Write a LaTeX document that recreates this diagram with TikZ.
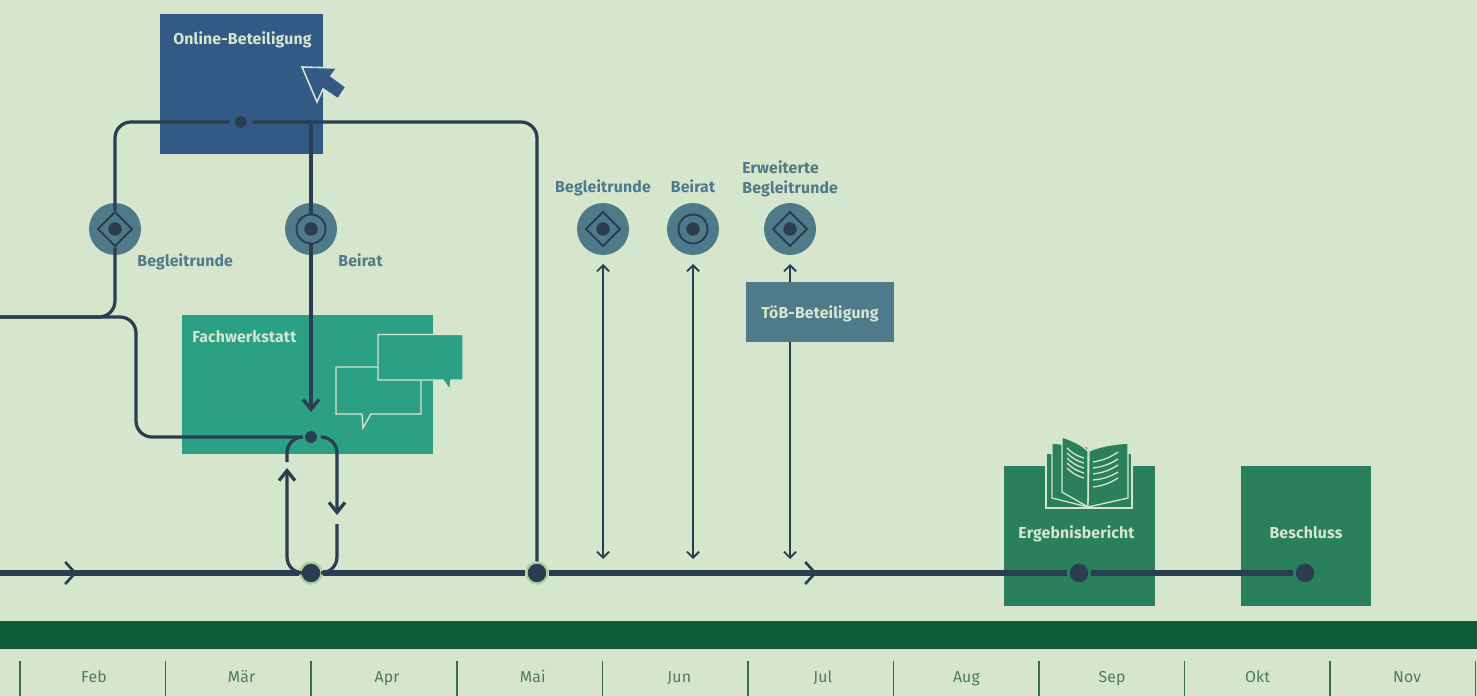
\documentclass[tikz,border=0pt]{standalone}
\usepackage{fontspec}
\setmainfont[LetterSpace=1]{Fira Sans}
\usepackage{tikz}
\usetikzlibrary{positioning,shapes.geometric,arrows.meta}

\definecolor{paper}{HTML}{D5E6CD}
\definecolor{ink}{HTML}{2B3D50}
\definecolor{badge}{HTML}{4F7A8A}
\definecolor{onlinecol}{HTML}{325A85}
\definecolor{werkcol}{HTML}{2CA084}
\definecolor{berichtcol}{HTML}{2A7F5C}
\definecolor{bandcol}{HTML}{0E5C39}
\definecolor{monthcol}{HTML}{4F7A62}
\definecolor{tickcol}{HTML}{3A6B4F}
\definecolor{ringcol}{HTML}{A9CFA0}

\begin{document}
\begin{tikzpicture}[x=0.02cm,y=-0.02cm,node distance=2.912cm,
box node/.style={rectangle,inner sep=0pt,outer sep=0pt},
title node/.style={font=\fontsize{9}{11}\selectfont\bfseries,text=paper,inner sep=0pt,text height=6.3pt,text depth=1.9pt},
side node/.style={font=\fontsize{9}{11}\selectfont\bfseries,text=badge,inner sep=0pt,text height=6.3pt,text depth=1.9pt},
month node/.style={font=\fontsize{9}{10}\selectfont,text=monthcol,inner sep=0pt,text height=6.3pt,text depth=1.9pt},
round node/.style={circle,fill=badge,minimum size=1.04cm,inner sep=0pt},
ring node/.style={circle,draw=ink,line width=1.1pt,minimum size=0.58cm,inner sep=0pt},
diam node/.style={diamond,draw=ink,line width=1.1pt,minimum width=0.7cm,minimum height=0.7cm,inner sep=0pt},
mid node/.style={circle,fill=ink,minimum size=0.27cm,inner sep=0pt},
stop node/.style={circle,fill=ink,minimum size=0.24cm,inner sep=0pt,outer sep=0.11cm},
base node/.style={circle,fill=ink,draw=ringcol,line width=1.3pt,minimum size=0.42cm,inner sep=0pt},
end node/.style={circle,fill=ink,minimum size=0.37cm,inner sep=0pt,outer sep=0.06cm},
main line/.style={draw=ink,line width=3.2pt},
loop line/.style={draw=ink,line width=1.85pt,rounded corners=0.32cm},
thin line/.style={draw=ink,line width=1.1pt},
main arrow/.style={draw=ink,line width=1.5pt,-{Straight Barb[length=0.2cm,width=0.44cm]}},
loop arrow/.style={-{Straight Barb[length=0.2cm,width=0.32cm]}},
thin arrow/.style={{Straight Barb[length=0.12cm,width=0.24cm]}-{Straight Barb[length=0.12cm,width=0.24cm]}},
up arrow/.style={-{Straight Barb[length=0.12cm,width=0.24cm]}},
sketch line/.style={draw=paper,line width=0.75pt,line join=miter}]

\useasboundingbox (0,0) rectangle (1477,696);
\fill[paper] (0,0) rectangle (1477,696);

% boxes
\node[box node,fill=onlinecol,minimum width=3.26cm,minimum height=2.8cm] (online) at (241.5,84) {};
\node[box node,fill=werkcol,minimum width=5.02cm,minimum height=2.78cm] (werk) at (307.5,384.5) {};
\node[box node,fill=badge,minimum width=2.96cm,minimum height=1.2cm] (toeb) at (820,312) {};
\node[box node,fill=berichtcol,minimum width=3.02cm,minimum height=2.8cm] (bericht) at (1079.5,536) {};
\node[box node,fill=berichtcol,minimum width=2.6cm,minimum height=2.8cm] (beschluss) at (1306,536) {};
\node[box node,fill=bandcol,minimum width=29.54cm,minimum height=0.56cm] (band) at (738.5,635) {};

% cursor
\fill[onlinecol,draw=paper,line width=0.9pt,line join=miter] (302,67) -- (337,68) -- (331,76) -- (346,87) -- (338,99) -- (323,89) -- (317,102) -- cycle;

% speech bubbles
\draw[sketch line] (336,367) -- (421,367) -- (421,414) -- (371,414) -- (363,428) -- (362,414) -- (336,414) -- cycle;
\filldraw[sketch line,fill=werkcol] (378,334.5) -- (463,334.5) -- (463,380) -- (451,380) -- (450,390) -- (443,380) -- (378,380) -- cycle;

% book
\filldraw[sketch line,fill=berichtcol] (1046,453) -- (1132,453) -- (1132,508) -- (1046,508) -- cycle;
\filldraw[sketch line,fill=berichtcol] (1052,443) -- (1088,447) -- (1088,507) -- (1052,498) -- cycle;
\filldraw[sketch line,fill=berichtcol] (1062,437) .. controls (1072,440) and (1082,445) .. (1088,451) -- (1088,507) -- (1062,492) -- cycle;
\filldraw[sketch line,fill=berichtcol] (1089,451) .. controls (1100,446) and (1115,444) .. (1128,443) -- (1128,498) -- (1088,507) -- cycle;
\draw[sketch line] (1067,448) to[bend right=14] (1084,458);
\draw[sketch line] (1067,453) to[bend right=14] (1084,463);
\draw[sketch line] (1067,458) to[bend right=14] (1084,468);
\draw[sketch line] (1067,463) to[bend right=14] (1084,473);
\draw[sketch line] (1067,468) to[bend right=14] (1084,478);
\draw[sketch line] (1093,462) to[bend right=12] (1118,452);
\draw[sketch line] (1093,468) to[bend right=12] (1118,459);
\draw[sketch line] (1093,474) to[bend right=12] (1118,465);
\draw[sketch line] (1093,480) to[bend right=12] (1118,472);
\draw[sketch line] (1093,487) to[bend right=12] (1118,478);

% round marks
\node[round node] (begl a) at (115,229) {};
\node[round node] (beirat a) at (311,229) {};
\node[round node] (begl b) at (603,229) {};
\node[round node] (beirat b) at (693,229) {};
\node[round node] (erw) at (790,229) {};
\node[diam node] (begl a mark) at (begl a) {};
\node[ring node] (beirat a mark) at (beirat a) {};
\node[diam node] (begl b mark) at (begl b) {};
\node[ring node] (beirat b mark) at (beirat b) {};
\node[diam node] (erw mark) at (erw) {};
\node[mid node] at (begl a) {};
\node[mid node] at (beirat a) {};
\node[mid node] at (begl b) {};
\node[mid node] at (beirat b) {};
\node[mid node] at (erw) {};

% stops
\node[stop node] (online stop) at (241,122) {};
\node[stop node] (werk stop) at (311,437) {};
\node[base node] (base a) at (311,573) {};
\node[base node] (base b) at (537,573) {};
\node[end node] (bericht stop) at (1079,573) {};
\node[end node] (beschluss stop) at (1305,573) {};

% free ends
\coordinate (start) at (0,317);
\coordinate (line start) at (0,573);
\coordinate (knick) at (136,380);
\coordinate (junction) at (311,122);
\coordinate (werk in) at (311,412);
\coordinate (up end) at (287,468);
\coordinate (up start) at (287,462);
\coordinate (down end) at (337,515);
\coordinate (down start) at (337,524);
\coordinate (arrow a back) at (60,573);
\coordinate (arrow a) at (77,573);
\coordinate (arrow b back) at (800,573);
\coordinate (arrow b) at (817,573);
\coordinate (begl top) at (603,264);
\coordinate (begl low) at (603,559);
\coordinate (beirat top) at (693,264);
\coordinate (beirat low) at (693,559);
\coordinate (erw top) at (790,264);
\coordinate (erw low) at (790,559);

% lines
\path[loop line] (start) -| (begl a mark);
\path[loop line] (begl a mark) |- (online stop);
\path[loop line] (online stop) -| (base b);
\path[loop line] (start) -| (knick) |- (werk stop);
\path[loop line] (junction) -- (beirat a mark);
\path[loop line,loop arrow] (beirat a mark) -- (werk in);
\path[loop line,loop arrow] (base a) -| (up end);
\path[loop line] (up start) |- (werk stop);
\path[loop line,loop arrow] (werk stop) -| (down end);
\path[loop line] (down start) |- (base a);

\path[main line] (line start) -- (base a);
\path[main line] (base a) -- (base b);
\path[main line] (base b) -- (bericht stop);
\path[main line] (bericht stop) -- (beschluss stop);
\path[main arrow] (arrow a back) -- (arrow a);
\path[main arrow] (arrow b back) -- (arrow b);

\path[thin line,thin arrow] (begl top) -- (begl low);
\path[thin line,thin arrow] (beirat top) -- (beirat low);
\path[thin line,up arrow] (erw |- toeb.north) -- (erw top);
\path[thin line,up arrow] (erw |- toeb.south) -- (erw low);

% texts
\node[title node,anchor=west] at (173,41) {Online-Beteiligung};
\node[title node,anchor=west] at (192,339) {Fachwerkstatt};
\node[title node] at (820,315) {TöB-Beteiligung};
\node[title node] at (1076.5,535) {Ergebnisbericht};
\node[title node] at (1306,535) {Beschluss};
\node[side node,anchor=west] at (137,263) {Begleitrunde};
\node[side node,anchor=west] at (338,263) {Beirat};
\node[side node] at (603,189) {Begleitrunde};
\node[side node] at (693,189) {Beirat};
\node[side node,anchor=west] at (742,170) {Erweiterte};
\node[side node,anchor=west] at (742,190) {Begleitrunde};

% months
\node[month node] (feb) at (94,679) {Feb};
\node[month node] (maer) [right of=feb,xshift=0.04cm] {Mär};
\node[month node] (apr) [right of=maer] {Apr};
\node[month node] (mai) [right of=apr] {Mai};
\node[month node] (jun) [right of=mai,xshift=0.02cm] {Jun};
\node[month node] (jul) [right of=jun,xshift=-0.04cm] {Jul};
\node[month node] (aug) [right of=jul,xshift=-0.04cm] {Aug};
\node[month node] (sep) [right of=aug] {Sep};
\node[month node] (okt) [right of=sep] {Okt};
\node[month node] (nov) [right of=okt,xshift=0.08cm] {Nov};

\draw[tickcol,line width=1.1pt] (20,661) -- (20,696);
\draw[tickcol,line width=1.1pt] (165.5,661) -- (165.5,696);
\draw[tickcol,line width=1.1pt] (311,661) -- (311,696);
\draw[tickcol,line width=1.1pt] (457,661) -- (457,696);
\draw[tickcol,line width=1.1pt] (602.5,661) -- (602.5,696);
\draw[tickcol,line width=1.1pt] (748,661) -- (748,696);
\draw[tickcol,line width=1.1pt] (893.5,661) -- (893.5,696);
\draw[tickcol,line width=1.1pt] (1039,661) -- (1039,696);
\draw[tickcol,line width=1.1pt] (1184.5,661) -- (1184.5,696);
\draw[tickcol,line width=1.1pt] (1330,661) -- (1330,696);
\draw[tickcol,line width=1.1pt] (1475.5,661) -- (1475.5,696);
\end{tikzpicture}
\end{document}
